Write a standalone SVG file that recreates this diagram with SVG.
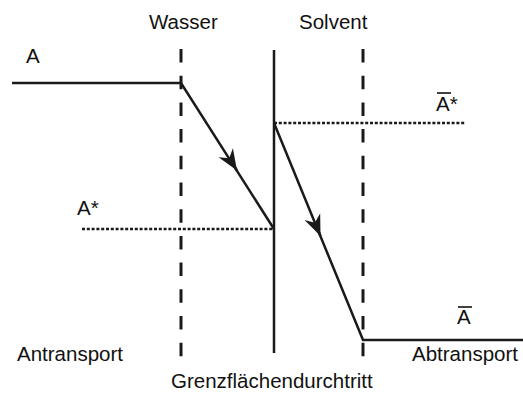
<svg xmlns="http://www.w3.org/2000/svg" width="523" height="400" viewBox="0 0 523 400">
  <style>
    .lbl { font-family: "Liberation Sans", Arial, sans-serif; font-size: 20.5px; fill: #111; }
    .solid { stroke: #1a1a1a; stroke-width: 2.5; fill: none; }
    .dash { stroke: #1a1a1a; stroke-width: 3; fill: none; stroke-dasharray: 13.5 13.2; }
    .dot { stroke: #1a1a1a; stroke-width: 2.5; fill: none; stroke-dasharray: 3 1.8; }
    .bar { stroke: #111; stroke-width: 1.6; }
  </style>
  <defs>
    <!-- notched arrowhead, drawn 1:1 in user units -->
    <marker id="head" markerUnits="userSpaceOnUse" markerWidth="26" markerHeight="22" viewBox="-24 -11 26 22" refX="0" refY="0" orient="auto">
      <path d="M0,0 L-21,-8.5 L-14.5,0 L-21,8.5 Z" fill="#1a1a1a"/>
    </marker>
  </defs>

  <!-- phase boundaries -->
  <g id="boundaries">
    <line class="dash" x1="181" y1="49" x2="181" y2="357"/>
    <line class="dash" x1="363" y1="49" x2="363" y2="357"/>
    <line class="solid" x1="274" y1="50" x2="274" y2="353"/>
  </g>

  <!-- equilibrium levels -->
  <g id="levels">
    <line class="dot" x1="82" y1="229" x2="274" y2="229"/>
    <line class="dot" x1="274" y1="123" x2="466" y2="123"/>
  </g>

  <!-- concentration profile -->
  <g id="connectors">
    <polyline class="solid" points="12,83 181,83 274,229"/>
    <polyline class="solid" points="274,123 363,340 523,340"/>
    <path class="solid" d="M230,159.5 L237,170.5" marker-end="url(#head)"/>
    <path class="solid" d="M316.5,226.5 L320.5,236" marker-end="url(#head)"/>
  </g>

  <g id="label-A"><text class="lbl" x="26" y="63">A</text></g>
  <g id="label-wasser"><text class="lbl" x="149" y="29">Wasser</text></g>
  <g id="label-solvent"><text class="lbl" x="299" y="29">Solvent</text></g>
  <g id="label-Astar"><text class="lbl" x="77" y="215">A*</text></g>
  <g id="label-Abar-star">
    <line class="bar" x1="437" y1="93" x2="451" y2="93"/>
    <text class="lbl" x="436" y="111">A*</text>
  </g>
  <g id="label-Abar">
    <line class="bar" x1="458" y1="307" x2="472" y2="307"/>
    <text class="lbl" x="457" y="324">A</text>
  </g>
  <g id="label-antransport"><text class="lbl" x="17" y="361">Antransport</text></g>
  <g id="label-abtransport"><text class="lbl" x="412" y="361">Abtransport</text></g>
  <g id="label-grenz"><text class="lbl" x="171" y="388">Grenzflächendurchtritt</text></g>
</svg>
